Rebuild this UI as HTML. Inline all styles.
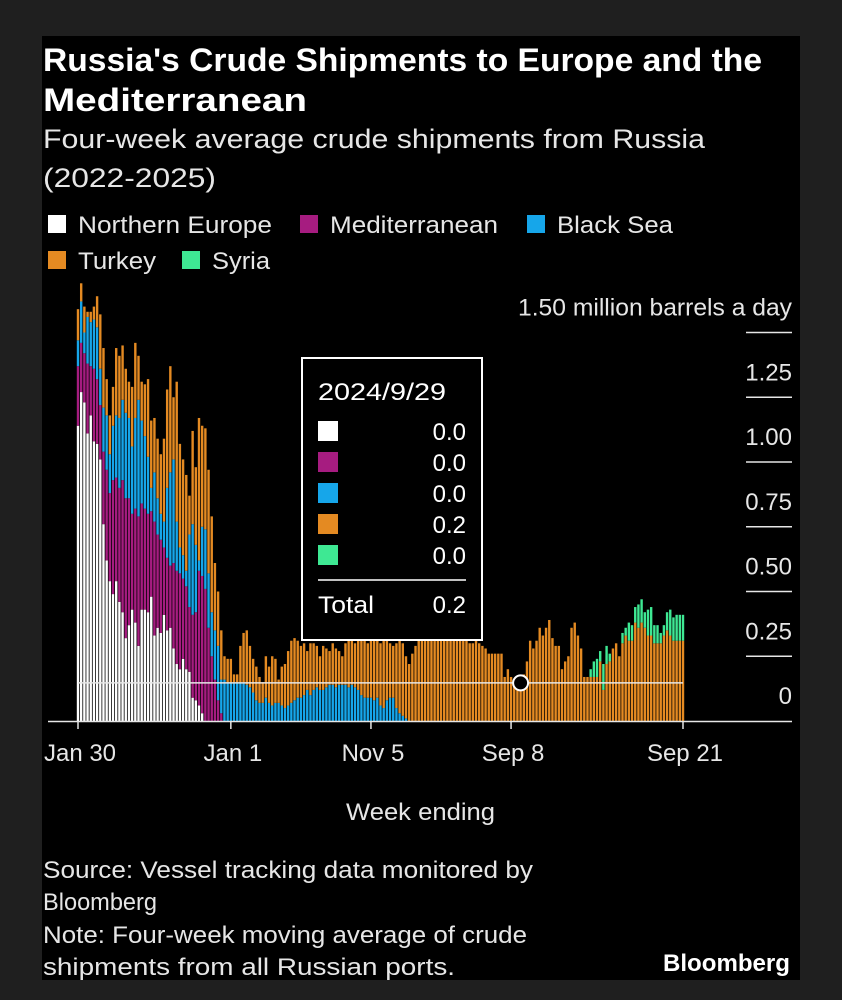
<!DOCTYPE html>
<html><head><meta charset="utf-8"><style>
html,body{margin:0;padding:0;background:#1f1f1f;width:842px;height:1000px;overflow:hidden;font-family:"Liberation Sans",sans-serif;color:#fff}
#panel{position:absolute;left:42px;top:36px;width:758px;height:944px;background:#000}
</style></head><body>
<div id="panel"></div>
<svg width="842" height="1000" style="position:absolute;left:0;top:0" font-family="Liberation Sans, sans-serif">
<text x="43" y="71" font-size="32" font-weight="bold" fill="#fff" textLength="719" lengthAdjust="spacingAndGlyphs">Russia's Crude Shipments to Europe and the</text>
<text x="43" y="111" font-size="32" font-weight="bold" fill="#fff" textLength="264" lengthAdjust="spacingAndGlyphs">Mediterranean</text>
<text x="43" y="148" font-size="27" fill="#e6e6e6" textLength="662" lengthAdjust="spacingAndGlyphs">Four-week average crude shipments from Russia</text>
<text x="43" y="187" font-size="27" fill="#e6e6e6" textLength="173" lengthAdjust="spacingAndGlyphs">(2022-2025)</text>
<g id="legend" font-size="24" fill="#e6e6e6"></g>
<g id="bars"></g>
<g id="axes"></g>
<g id="tooltip"></g>
<text x="346" y="820" font-size="24" fill="#e6e6e6" textLength="149" lengthAdjust="spacingAndGlyphs">Week ending</text>
<text x="43" y="878" font-size="24" fill="#e6e6e6" textLength="490" lengthAdjust="spacingAndGlyphs">Source: Vessel tracking data monitored by</text>
<text x="43" y="910" font-size="24" fill="#e6e6e6" textLength="114" lengthAdjust="spacingAndGlyphs">Bloomberg</text>
<text x="43" y="943" font-size="24" fill="#e6e6e6" textLength="484" lengthAdjust="spacingAndGlyphs">Note: Four-week moving average of crude</text>
<text x="43" y="975" font-size="24" fill="#e6e6e6" textLength="412" lengthAdjust="spacingAndGlyphs">shipments from all Russian ports.</text>
<text x="663" y="971" font-size="24" font-weight="bold" fill="#fff" textLength="127" lengthAdjust="spacingAndGlyphs">Bloomberg</text>
</svg>
<script>
const seriesNames=["Northern Europe","Mediterranean","Black Sea","Turkey","Syria"];
const seriesColors=["#ffffff","#a61c80","#16a6ea","#e48a22","#3ee893"];
const northern=[1.14,1.27,1.23,1.11,1.18,1.08,1.07,1.01,0.76,0.62,0.54,0.49,0.54,0.46,0.42,0.32,0.37,0.43,0.38,0.29,0.43,0.43,0.42,0.48,0.33,0.36,0.34,0.41,0.35,0.36,0.28,0.22,0.20,0.24,0.20,0.19,0.09,0.08,0.06,0.03,0,0,0,0,0,0,0,0];
const med=[0.23,0.19,0.19,0.27,0.19,0.28,0.25,0.21,0.28,0.35,0.34,0.44,0.40,0.44,0.51,0.54,0.49,0.37,0.44,0.50,0.41,0.39,0.38,0.33,0.44,0.36,0.36,0.26,0.28,0.24,0.33,0.36,0.37,0.31,0.32,0.25,0.32,0.34,0.52,0.53,0.51,0.36,0.25,0.16,0.08,0.03,0,0];
const blackSea=[0.10,0.16,0.08,0.18,0.17,0.19,0.20,0.14,0.17,0.21,0.15,0.21,0.24,0.27,0.31,0.33,0.31,0.26,0.35,0.45,0.32,0.28,0.22,0.09,0.19,0.14,0.10,0.10,0.27,0.36,0.40,0.19,0.10,0.09,0.06,0.28,0.35,0.26,0.04,0.19,0.23,0.21,0.17,0.19,0.21,0.13,0.16,0.15,
0.15,0.15,0.15,0.15,0.15,0.14,0.13,0.11,0.08,0.07,0.07,0.09,0.07,0.06,0.07,0.07,0.06,0.05,0.06,0.07,0.08,0.09,0.09,0.10,0.12,0.10,0.12,0.13,
0.12,0.12,0.13,0.14,0.14,0.13,0.14,0.14,0.14,0.13,0.14,0.13,0.12,0.10,0.09,0.09,0.09,0.08,0.09,0.06,0.05,0.08,0.09,0.09,0.05,0.03,0.02,0.01];
const turkey=[0.12,0.07,0.10,0.02,0.04,0.05,0.12,0.21,0.23,0.14,0.15,0.15,0.26,0.24,0.21,0.17,0.14,0.23,0.29,0.17,0.15,0.20,0.30,0.26,0.21,0.23,0.23,0.32,0.38,0.41,0.24,0.54,0.40,0.37,0.37,0.15,0.36,0.30,0.55,0.39,0.39,0.40,0.37,0.26,0.21,0.19,0.09,0.09,
0.09,0.03,0.03,0.14,0.19,0.21,0.16,0.13,0.13,0.10,0.08,0.16,0.14,0.19,0.17,0.09,0.15,0.17,0.21,0.24,0.24,0.22,0.20,0.20,0.15,0.20,0.18,0.16,0.13,0.17,0.15,0.13,0.16,0.15,0.13,0.11,
0.16,0.18,0.18,0.17,0.19,0.23,0.23,0.21,0.22,0.25,0.23,0.24,0.26,0.24,0.21,0.20,0.25,0.28,0.28,0.24,
0.22,0.26,0.29,0.31,0.32,0.32,0.33,0.32,0.31,0.32,0.33,0.32,0.31,0.32,0.31,0.31,
0.31,0.31,0.31,0.30,0.30,0.31,0.30,0.29,0.28,0.26,0.26,0.26,0.26,0.26,0.17,0.20,0.17,0.15,0.15,0.15,0.18,0.23,0.31,0.28,0.31,0.36,0.33,0.36,0.39,0.32,0.29,0.29,0.20,0.23,0.25,0.36,0.38,0.33,0.28,0.17,
0.17,0.17,0.17,0.17,0.23,0.12,0.22,0.23,0.28,0.30,0.25,0.30,0.33,0.31,0.31,0.38,0.36,0.38,0.36,0.33,0.33,0.30,0.30,0.30,0.33,0.35,0.33,0.31,0.31,0.31,0.31];
const syriaTail=[0,0.03,0.06,0.07,0.04,0.10,0.07,0.03,0,0,0,0.04,0.03,0.07,0.06,0.06,0.09,0.09,0.06,0.10,0.11,0.07,0.07,0.04,0.04,0.07,0.10,0.09,0.10,0.10,0.10];
const syriaStart=160;
const yTicks=[0,0.25,0.50,0.75,1.00,1.25,1.50];
const yTickLabels=["0","0.25","0.50","0.75","1.00","1.25","1.50 million barrels a day"];
const xTickIdx=[0,48,92,136,190];
const xTickLabels=["Jan 30","Jan 1","Nov 5","Sep 8","Sep 21"];
const hoverIdx=139;
const hoverDate="2024/9/29";
const hoverValues=["0.0","0.0","0.0","0.2","0.0"];
const hoverTotal="0.2";

const NS="http://www.w3.org/2000/svg";
const N=turkey.length;
const X0=78,X1=683;
function x(i){return X0+(X1-X0)*i/(N-1);}
function y(v){return 721-v*259;}
function val(arr,i){return i<arr.length?arr[i]:0;}
function syriaVal(i){return i>=syriaStart?val(syriaTail,i-syriaStart):0;}
function mk(tag,attrs,parent){const e=document.createElementNS(NS,tag);for(const k in attrs)e.setAttribute(k,attrs[k]);parent.appendChild(e);return e;}

const lg=document.getElementById('legend');
const lpos=[[48,224],[300,224],[527,224],[48,260],[182,260]];
const lLen=[194,168,116,78,58];
seriesNames.forEach((n,s)=>{
  const r=mk('rect',{x:lpos[s][0],y:lpos[s][1]-9,width:18,height:18,fill:seriesColors[s]},lg);
  
  
  const t=mk('text',{x:lpos[s][0]+30,y:lpos[s][1]+9,textLength:lLen[s],lengthAdjust:'spacingAndGlyphs'},lg);
  t.textContent=n;
  
  
});

const bg=document.getElementById('bars');
for(let i=0;i<N;i++){
  let acc=0;
  const vals=[val(northern,i),val(med,i),val(blackSea,i),val(turkey,i),syriaVal(i)];
  vals.forEach((v,s)=>{
    if(v>0){
      const r=mk('rect',{x:x(i)-1.2,y:y(acc+v),width:2.4,height:y(acc)-y(acc+v),fill:seriesColors[s]},bg);
      
      
    }
    acc+=v;
  });
}

const ax=document.getElementById('axes');
const base=mk('line',{x1:48,x2:792,y1:721.5,y2:721.5,stroke:'#e6e6e6','stroke-width':1.5},ax);


yTicks.forEach((v,k)=>{
  if(v>0){
    const l=mk('line',{x1:746,x2:792,y1:y(v),y2:y(v),stroke:'#e6e6e6','stroke-width':1.5},ax);
    
    
  }
  const attrs={x:792,y:y(v)-17,'text-anchor':'end','font-size':24,fill:'#e6e6e6'};
  if(k===yTicks.length-1){attrs.textLength=274;attrs.lengthAdjust='spacingAndGlyphs';}
  const t=mk('text',attrs,ax);
  t.textContent=yTickLabels[k];
  
  
});
xTickIdx.forEach((idx,k)=>{
  const l=mk('line',{x1:x(idx),x2:x(idx),y1:721,y2:729,stroke:'#e6e6e6','stroke-width':1.5},ax);
  
  
  const t=mk('text',{x:x(idx)+2,y:761,'text-anchor':'middle','font-size':24,fill:'#e6e6e6'},ax);
  t.textContent=xTickLabels[k];
  
  
});

const tg=document.getElementById('tooltip');
const hv=0.147;
const hl=mk('line',{x1:X0,x2:X1,y1:y(hv),y2:y(hv),stroke:'#e6e6e6','stroke-width':1.5},tg);


const hc=mk('circle',{cx:x(hoverIdx),cy:y(hv),r:7.5,fill:'#000',stroke:'#fff','stroke-width':2},tg);


const box=mk('rect',{x:302,y:358,width:180,height:282,fill:'#000',stroke:'#fff','stroke-width':2},tg);


const hd=mk('text',{x:318,y:400,'font-size':24,fill:'#fff',textLength:128,lengthAdjust:'spacingAndGlyphs'},tg);
hd.textContent=hoverDate;


hoverValues.forEach((v,s)=>{
  const yy=431+s*31;
  const r=mk('rect',{x:318,y:yy-10,width:20,height:20,fill:seriesColors[s]},tg);
  
  
  const t=mk('text',{x:466,y:yy+9,'text-anchor':'end','font-size':24,fill:'#fff'},tg);
  t.textContent=v;
  
  
});
const sep=mk('line',{x1:318,x2:466,y1:580,y2:580,stroke:'#fff','stroke-width':1.5},tg);


const tl=mk('text',{x:318,y:613,'font-size':24,fill:'#fff',textLength:56,lengthAdjust:'spacingAndGlyphs'},tg);
tl.textContent="Total";


const tv=mk('text',{x:466,y:613,'text-anchor':'end','font-size':24,fill:'#fff'},tg);
tv.textContent=hoverTotal;


</script>
</body></html>
